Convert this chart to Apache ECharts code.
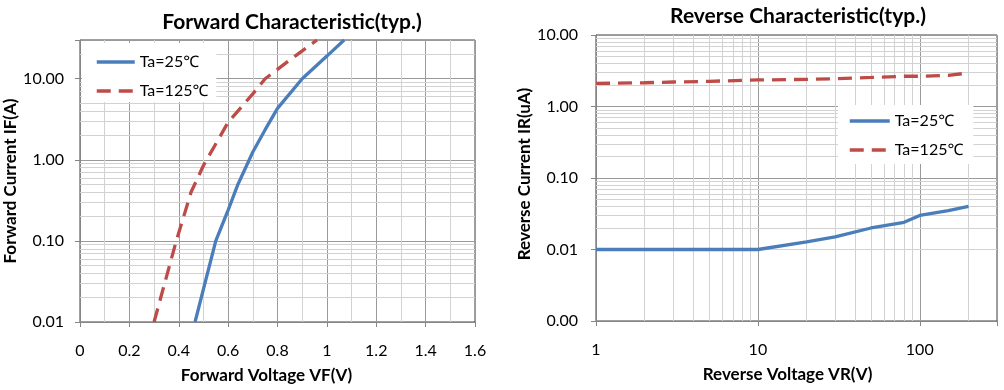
<!DOCTYPE html>
<html><head><meta charset="utf-8">
<script src="https://cdn.jsdelivr.net/npm/echarts@6/dist/echarts.min.js"></script>
<style>html,body{margin:0;padding:0;background:#fff}#c{width:1004px;height:390px}</style>
</head><body><div id="c"></div>
<script>
// Forward characteristic
const fwd25VF  = [0.466, 0.55, 0.60, 0.64, 0.70, 0.75, 0.80, 0.90, 1.00, 1.07];
const fwd25IF  = [0.01, 0.1, 0.24, 0.5, 1.25, 2.35, 4.3, 10, 19, 30];
const fwd125VF = [0.30, 0.39, 0.45, 0.50, 0.60, 0.70, 0.75, 0.85, 0.96];
const fwd125IF = [0.01, 0.1, 0.4, 0.85, 2.9, 6.5, 10, 17, 30];
// Reverse characteristic
const revVR  = [1, 2, 3, 5, 10, 20, 30, 50, 80, 100, 150, 200];
const rev25  = [0.01, 0.01, 0.01, 0.01, 0.01, 0.0128, 0.015, 0.02, 0.024, 0.03, 0.035, 0.04];
const rev125 = [2.1, 2.15, 2.2, 2.25, 2.35, 2.4, 2.45, 2.55, 2.65, 2.65, 2.72, 2.95];
const seriesNames = ['Ta=25\u2103', 'Ta=125\u2103'];
const titles = ['Forward Characteristic(typ.)', 'Reverse Characteristic(typ.)'];

const FONT = 'Lato, "Noto Sans", sans-serif';
const BLUE = '#4A7EBB', RED = '#BE4B48';
const MAJOR = '#9a9a9a', MINOR = '#d2d2d2', AXIS = '#868686';

function zip(a, b) { return a.map((v, i) => [v, b[i]]); }
function minorVals(lo, hi) {
  const out = [];
  for (let e = Math.floor(Math.log10(lo)); e <= Math.ceil(Math.log10(hi)); e++) {
    for (let k = 2; k <= 9; k++) {
      const v = +(k * Math.pow(10, e)).toPrecision(6);
      if (v > lo * 1.0001 && v < hi * 0.9999) out.push(v);
    }
  }
  return out;
}
function isPow10(v) { const l = Math.log10(v); return Math.abs(l - Math.round(l)) < 1e-6; }

const minorLine = { silent: true, symbol: ['none', 'none'], label: { show: false }, z: 1,
  lineStyle: { color: MINOR, width: 1, type: 'solid' }, animation: false };
const nameStyle = { fontFamily: FONT, fontSize: 17, fontWeight: 'bold', color: '#000' };
const titleStyle = { fontFamily: FONT, fontSize: 21, fontWeight: 'bold', color: '#000' };
const legendCommon = { orient: 'vertical', backgroundColor: '#fff', itemGap: 13, itemHeight: 14,
  textStyle: { fontFamily: FONT, fontSize: 16, color: '#000' }, selectedMode: false,
  itemStyle: { opacity: 0, borderWidth: 0 }, lineStyle: { width: 3.5 } };

const chart = echarts.init(document.getElementById('c'), null, { renderer: 'canvas' });
chart.setOption({
  animation: false,
  backgroundColor: '#fff',
  textStyle: { fontFamily: FONT },
  title: [
    { text: titles[0], left: 287, top: 7, textAlign: 'center', textStyle: titleStyle },
    { text: titles[1], left: 793, top: 1, textAlign: 'center', textStyle: titleStyle }
  ],
  legend: [
    Object.assign({}, legendCommon, { data: seriesNames.map(n => ({ name: n })), left: 82, top: 43,
      padding: [11, 8, 3, 13], itemWidth: 38 }),
    Object.assign({}, legendCommon, { data: seriesNames.map(n => ({ name: n })), left: 838, top: 105,
      padding: [8, 10, 6, 10], itemWidth: 40 })
  ],
  grid: [
    { left: 80, right: 529, top: 40, bottom: 68, show: true, borderColor: '#404040', borderWidth: 1 },
    { left: 596, right: 7, top: 35, bottom: 69, show: true, borderColor: '#404040', borderWidth: 1 }
  ],
  xAxis: [
    { type: 'value', gridIndex: 0, min: 0, max: 1.6, interval: 0.2,
      name: 'Forward Voltage VF(V)', nameLocation: 'middle', nameGap: 45,
      nameTextStyle: Object.assign({}, nameStyle, { padding: [0, 22, 0, 0] }),
      axisLine: { lineStyle: { color: AXIS } },
      axisTick: { show: true, length: 5, lineStyle: { color: AXIS } },
      axisLabel: { margin: 21, fontSize: 16, color: '#000', fontFamily: FONT,
        showMaxLabel: true, formatter: v => String(+v.toFixed(1)) },
      splitLine: { show: true, lineStyle: { color: MAJOR } },
      minorTick: { show: false, splitNumber: 2 },
      minorSplitLine: { show: true, lineStyle: { color: MINOR } } },
    { type: 'log', logBase: 10, gridIndex: 1, min: 1, max: 300,
      name: 'Reverse Voltage VR(V)', nameLocation: 'middle', nameGap: 45,
      nameTextStyle: Object.assign({}, nameStyle, { padding: [0, 18, 0, 0] }),
      axisLine: { lineStyle: { color: AXIS } },
      axisTick: { show: true, length: 5, lineStyle: { color: AXIS } },
      axisLabel: { margin: 21, fontSize: 16, color: '#000', fontFamily: FONT,
        formatter: v => isPow10(v) ? String(Math.round(v)) : '' },
      splitLine: { show: true, lineStyle: { color: MAJOR } } }
  ],
  yAxis: [
    { type: 'log', logBase: 10, gridIndex: 0, min: 0.01, max: 30,
      name: 'Forward Current IF(A)', nameLocation: 'middle', nameGap: 57, nameTextStyle: nameStyle,
      axisLine: { show: true, lineStyle: { color: AXIS } },
      axisTick: { show: true, length: 5, lineStyle: { color: AXIS } },
      axisLabel: { margin: 16, fontSize: 16, color: '#000', fontFamily: FONT,
        formatter: v => isPow10(v) ? v.toFixed(2) : '' },
      splitLine: { show: true, lineStyle: { color: MAJOR } } },
    { type: 'log', logBase: 10, gridIndex: 1, min: 0.001, max: 10,
      name: 'Reverse Current IR(uA)', nameLocation: 'middle', nameGap: 58,
      nameTextStyle: Object.assign({}, nameStyle, { padding: [0, 0, 0, 8] }),
      axisLine: { show: true, lineStyle: { color: AXIS } },
      axisTick: { show: true, length: 5, lineStyle: { color: AXIS } },
      axisLabel: { margin: 18, fontSize: 16, color: '#000', fontFamily: FONT,
        formatter: v => isPow10(v) ? v.toFixed(2) : '' },
      splitLine: { show: true, lineStyle: { color: MAJOR } } }
  ],
  series: [
    { name: seriesNames[0], type: 'line', xAxisIndex: 0, yAxisIndex: 0, data: zip(fwd25VF, fwd25IF),
      showSymbol: false, symbol: 'none', z: 3, lineStyle: { color: BLUE, width: 3.3 }, itemStyle: { color: BLUE } },
    { name: seriesNames[1], type: 'line', xAxisIndex: 0, yAxisIndex: 0, data: zip(fwd125VF, fwd125IF),
      showSymbol: false, symbol: 'none', z: 3, lineStyle: { color: RED, width: 3.3, type: [14, 8] }, itemStyle: { color: RED } },
    { name: seriesNames[0], type: 'line', xAxisIndex: 1, yAxisIndex: 1, data: zip(revVR, rev25),
      showSymbol: false, symbol: 'none', z: 3, lineStyle: { color: BLUE, width: 3.3 }, itemStyle: { color: BLUE } },
    { name: seriesNames[1], type: 'line', xAxisIndex: 1, yAxisIndex: 1, data: zip(revVR, rev125),
      showSymbol: false, symbol: 'none', z: 3, lineStyle: { color: RED, width: 3.3, type: [14, 8] }, itemStyle: { color: RED } },
    { name: 'gridF', type: 'line', xAxisIndex: 0, yAxisIndex: 0, data: [[0.8, 1]], symbol: 'none', z: 1,
      lineStyle: { opacity: 0 }, silent: true,
      markLine: Object.assign({}, minorLine, { data: minorVals(0.01, 30).map(v => ({ yAxis: v })) }) },
    { name: 'gridR', type: 'line', xAxisIndex: 1, yAxisIndex: 1, data: [[10, 1]], symbol: 'none', z: 1,
      lineStyle: { opacity: 0 }, silent: true,
      markLine: Object.assign({}, minorLine, { data: minorVals(0.001, 10).map(v => ({ yAxis: v }))
        .concat(minorVals(1, 300).map(v => ({ xAxis: v }))) }) }
  ]
});
</script>
</body></html>
